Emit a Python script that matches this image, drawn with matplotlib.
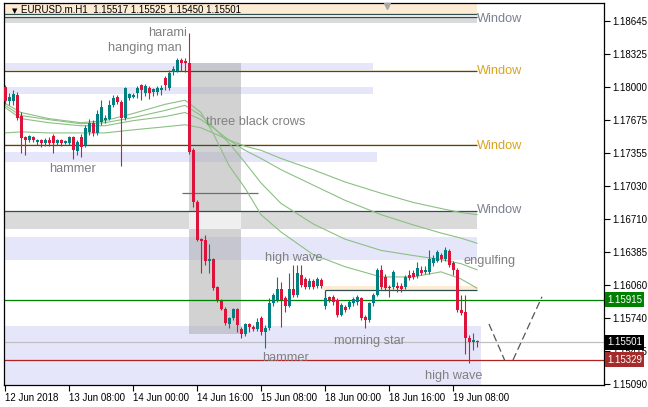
import matplotlib.pyplot as plt
import matplotlib.transforms as mtransforms
import numpy as np
from matplotlib.patches import Rectangle

plt.rcParams['font.family'] = ['Liberation Sans', 'DejaVu Sans']

# hourly EURUSD candles, 12 Jun 2018 00:00 .. 19 Jun 2018 14:00 (weekend skipped)
opens = [1.1800, 1.1786, 1.1786, 1.1792, 1.1772, 1.1751, 1.1748, 1.1751, 1.1746, 1.1748,
         1.1745, 1.1748, 1.1752, 1.1745, 1.1748, 1.1745, 1.1745, 1.1751, 1.1737, 1.1751,
         1.1743, 1.1756, 1.1765, 1.1755, 1.1766, 1.1768, 1.1769, 1.1782, 1.1790, 1.1785,
         1.1770, 1.1789, 1.1790, 1.1794, 1.1802, 1.1794, 1.1799, 1.1795, 1.1795, 1.1797,
         1.1809, 1.1799, 1.1815, 1.1816, 1.1826, 1.1825, 1.1823, 1.1738, 1.1687, 1.1651,
         1.1650, 1.1630, 1.1632, 1.1604, 1.1590, 1.1583, 1.1568, 1.1574, 1.1583, 1.1563,
         1.1558, 1.1568, 1.1565, 1.1563, 1.1574, 1.1560, 1.1564, 1.1588, 1.1591, 1.1602,
         1.1593, 1.1586, 1.1602, 1.1596, 1.1616, 1.1612, 1.1604, 1.1610, 1.1605, 1.1611,
         1.1586, 1.1594, 1.1594, 1.1591, 1.1577, 1.1585, 1.1585, 1.1588, 1.1589, 1.1593,
         1.1575, 1.1572, 1.1588, 1.1596, 1.1621, 1.1614, 1.1604, 1.1604, 1.1605, 1.1605,
         1.1604, 1.1616, 1.1618, 1.1615, 1.1621, 1.1619, 1.1619, 1.1628, 1.1630, 1.1635,
         1.1632, 1.1639, 1.1628, 1.1621, 1.1582, 1.1580, 1.1554, 1.1550, 1.15517]
highs = [1.1802, 1.1794, 1.1797, 1.1795, 1.1775, 1.1752, 1.1753, 1.1752, 1.1749, 1.1749,
         1.1750, 1.1751, 1.1754, 1.1749, 1.1749, 1.1748, 1.1752, 1.1752, 1.1748, 1.1754,
         1.1763, 1.1769, 1.1768, 1.1777, 1.1787, 1.1773, 1.1787, 1.1792, 1.1792, 1.1787,
         1.1800, 1.1794, 1.1794, 1.1801, 1.1803, 1.1803, 1.1801, 1.1799, 1.1801, 1.1802,
         1.1811, 1.1817, 1.1821, 1.1828, 1.1828, 1.1828, 1.1853, 1.1740, 1.1689, 1.1652,
         1.1655, 1.1646, 1.1633, 1.1605, 1.1592, 1.1585, 1.1575, 1.1584, 1.1584, 1.1565,
         1.1569, 1.1569, 1.1567, 1.1574, 1.1576, 1.1567, 1.1593, 1.1598, 1.1614, 1.1609,
         1.1595, 1.1618, 1.1626, 1.1626, 1.1626, 1.1614, 1.1613, 1.1612, 1.1614, 1.1613,
         1.1595, 1.1595, 1.1596, 1.1593, 1.1588, 1.1587, 1.1591, 1.1594, 1.1596, 1.1594,
         1.1577, 1.1589, 1.1598, 1.1623, 1.1626, 1.1617, 1.1606, 1.1621, 1.1609, 1.1608,
         1.1616, 1.1621, 1.1621, 1.1629, 1.1625, 1.1625, 1.1640, 1.1635, 1.1640, 1.1637,
         1.1643, 1.1641, 1.1630, 1.1623, 1.1596, 1.1596, 1.1557, 1.1559, 1.15525]
lows = [1.1783, 1.1782, 1.1782, 1.1768, 1.1735, 1.1733, 1.1746, 1.1746, 1.1743, 1.1741,
        1.1742, 1.1742, 1.1735, 1.1743, 1.1742, 1.1744, 1.1743, 1.1729, 1.1733, 1.1731,
        1.1741, 1.1753, 1.1752, 1.1753, 1.1763, 1.1765, 1.1768, 1.1780, 1.1783, 1.1723,
        1.1768, 1.1787, 1.1789, 1.1789, 1.1787, 1.1791, 1.1788, 1.1791, 1.1792, 1.1792,
        1.1797, 1.1797, 1.1812, 1.1815, 1.1816, 1.1815, 1.1734, 1.1682, 1.1649, 1.1618,
        1.1626, 1.1618, 1.1601, 1.1589, 1.1582, 1.1567, 1.1564, 1.1572, 1.1560, 1.1554,
        1.1556, 1.1560, 1.1561, 1.1561, 1.1557, 1.1544, 1.1562, 1.1586, 1.1589, 1.1565,
        1.1580, 1.1585, 1.1594, 1.1594, 1.1604, 1.1602, 1.1602, 1.1602, 1.1603, 1.1603,
        1.1583, 1.1589, 1.1587, 1.1575, 1.1576, 1.1580, 1.1583, 1.1586, 1.1587, 1.1572,
        1.1564, 1.1570, 1.1586, 1.1595, 1.1602, 1.1601, 1.1594, 1.1602, 1.1599, 1.1599,
        1.1602, 1.1611, 1.1612, 1.1613, 1.1616, 1.1617, 1.1617, 1.1625, 1.1629, 1.1629,
        1.1630, 1.1624, 1.1616, 1.1580, 1.1577, 1.1539, 1.1530, 1.1542, 1.15450]
closes = [1.1786, 1.1790, 1.1793, 1.1770, 1.1750, 1.1748, 1.1752, 1.1748, 1.1748, 1.1745,
          1.1748, 1.1745, 1.1745, 1.1748, 1.1745, 1.1747, 1.1751, 1.1738, 1.1746, 1.1741,
          1.1760, 1.1765, 1.1755, 1.1774, 1.1780, 1.1770, 1.1782, 1.1789, 1.1785, 1.1770,
          1.1799, 1.1793, 1.1792, 1.1799, 1.1797, 1.1801, 1.1794, 1.1798, 1.1799, 1.1799,
          1.1802, 1.1814, 1.1818, 1.1826, 1.1823, 1.1823, 1.1736, 1.1687, 1.1650, 1.1649,
          1.1630, 1.1632, 1.1603, 1.1591, 1.1583, 1.1569, 1.1574, 1.1583, 1.1567, 1.1558,
          1.1568, 1.1565, 1.1563, 1.1570, 1.1560, 1.1564, 1.1588, 1.1596, 1.1602, 1.1591,
          1.1586, 1.1602, 1.1596, 1.1618, 1.1606, 1.1604, 1.1610, 1.1604, 1.1612, 1.1605,
          1.1593, 1.1591, 1.1589, 1.1577, 1.1587, 1.1582, 1.1589, 1.1592, 1.1594, 1.1574,
          1.1572, 1.1588, 1.1596, 1.1621, 1.1604, 1.1603, 1.1603, 1.1619, 1.1603, 1.1602,
          1.1614, 1.1613, 1.1614, 1.1623, 1.1618, 1.1621, 1.1632, 1.1633, 1.1638, 1.1632,
          1.1640, 1.1626, 1.1621, 1.1582, 1.1579, 1.1554, 1.1550, 1.1552, 1.15501]

# moving averages, read at a few bars
ma_idx = [0, 4, 11, 19, 25, 32, 40, 45, 49, 52, 56, 60, 64, 69, 77, 85, 94, 102, 109, 114, 118]
ma_fast = [1.1784, 1.1775, 1.1769, 1.1765, 1.1767, 1.1774, 1.1783, 1.1787, 1.1775, 1.1755, 1.1723,
           1.1701, 1.1675, 1.1658, 1.1636, 1.1624, 1.1614, 1.1614, 1.1619, 1.1612, 1.1603]
ma_mid1 = [1.1782, 1.1772, 1.1768, 1.1764, 1.1765, 1.1770, 1.1777, 1.1782, 1.1772, 1.1761, 1.1745,
           1.1726, 1.1706, 1.1686, 1.1666, 1.1651, 1.1640, 1.1635, 1.1631, 1.1627, 1.1621]
ma_mid2 = [1.1780, 1.1769, 1.1765, 1.1762, 1.1762, 1.1767, 1.1771, 1.1775, 1.1768, 1.1760, 1.1748,
           1.1738, 1.1730, 1.1719, 1.1704, 1.1689, 1.1675, 1.1665, 1.1657, 1.1652, 1.1647]
ma_slow = [1.1755, 1.1756, 1.1755, 1.1755, 1.1755, 1.1758, 1.1761, 1.1763, 1.1760, 1.1755, 1.1748,
           1.1742, 1.1738, 1.1730, 1.1719, 1.1707, 1.1696, 1.1687, 1.1681, 1.1677, 1.1675]

date_pos = [0, 16, 32, 48, 64, 80, 96, 112]
date_labels = ["12 Jun 2018", "13 Jun 08:00", "14 Jun 00:00", "14 Jun 16:00",
               "15 Jun 08:00", "18 Jun 00:00", "18 Jun 16:00", "19 Jun 08:00"]
price_ticks = [1.18645, 1.18325, 1.18000, 1.17675, 1.17355, 1.17030, 1.16710,
               1.16385, 1.16060, 1.15740, 1.15415, 1.15090]

fig = plt.figure(figsize=(6.48, 4.07), dpi=100)
ax = fig.add_axes([4 / 648, 22 / 407, 600 / 648, 382 / 407])
ax.set_xlim(-0.25, 149.75)
ax.set_ylim(1.15082, 1.18822)

lav = '#e6e6fa'
beige = '#fdebd3'
dark = '#2f4f4f'
x0 = -0.25


def band(xa, xb, ya, yb, color, z=0.5, alpha=1.0):
    ax.add_patch(Rectangle((xa, ya), xb - xa, yb - ya, fc=color, ec='none', zorder=z, alpha=alpha))


# window zones
band(x0, 118, 1.18711, 1.18822, beige)
band(x0, 118, 1.18623, 1.18682, '#dadada')
ax.hlines([1.18711, 1.18682], x0, 118, color=dark, lw=0.9, zorder=1)
band(x0, 92, 1.18166, 1.18234, lav)
band(x0, 92, 1.17931, 1.17999, lav)
band(x0, 118, 1.18156, 1.18166, beige)
ax.hlines(1.18156, x0, 118, color=dark, lw=0.9, zorder=1)
band(x0, 118, 1.17431, 1.17441, beige)
ax.hlines(1.17431, x0, 118, color=dark, lw=0.9, zorder=1)
band(x0, 93, 1.17265, 1.17363, lav)
band(x0, 118, 1.16609, 1.16775, '#dadada')
ax.hlines(1.16785, x0, 118, color=dark, lw=0.9, zorder=1)
band(x0, 118, 1.16306, 1.16531, lav)
band(x0, 119, 1.15082, 1.15659, lav)

# three black crows box
band(46, 59, 1.15581, 1.18234, '#aaaaaa', z=0.7, alpha=0.52)
band(46, 59, 1.16609, 1.16775, '#efefef', z=0.8)
ax.hlines(1.16962, 44.25, 63.25, color='#6e6e6e', lw=0.9, zorder=1)

# morning star zone
band(79, 118, 1.16012, 1.16051, beige)
ax.hlines(1.16012, 80, 118, color=dark, lw=0.9, zorder=1)
ax.vlines(80, 1.15914, 1.16012, color=dark, lw=0.9, zorder=1)

# price lines
ax.axhline(1.15915, color='#008000', lw=0.9, zorder=1.2)
ax.axhline(1.15501, color='#c0c0c0', lw=0.9, zorder=1.2)
ax.axhline(1.15329, color='#b22222', lw=0.9, zorder=1.2)

# projected path
ax.plot([121, 125], [1.15679, 1.15317], color='#555555', lw=0.9, ls=(0, (6, 3)), zorder=1.2)
ax.plot([127, 134.25], [1.15327, 1.15946], color='#555555', lw=0.9, ls=(0, (6, 3)), zorder=1.2)

# moving averages
for ma in (ma_fast, ma_mid1, ma_mid2, ma_slow):
    ax.plot(ma_idx, ma, color='#8cc084', lw=0.8, zorder=1.5)

# candles
o = np.array(opens)
c = np.array(closes)
idx = np.arange(len(o))
cols = np.where(c >= o, '#008080', '#dc143c')
ax.vlines(idx, lows, highs, colors=cols, lw=0.8, zorder=3)
ax.bar(idx, np.maximum(np.abs(c - o), 0.00006), bottom=np.minimum(o, c),
       width=0.75, color=cols, linewidth=0, zorder=4)

# pattern labels
gray = '#808080'
fs = 9.2
ax.text(40.75, 1.18528, "harami", color=gray, fontsize=fs, ha='center', va='center', zorder=5)
ax.text(35, 1.18381, "hanging man", color=gray, fontsize=fs, ha='center', va='center', zorder=5)
ax.text(50.25, 1.17657, "three black crows", color=gray, fontsize=fs, ha='left', va='center', zorder=5)
ax.text(17, 1.17197, "hammer", color=gray, fontsize=fs, ha='center', va='center', zorder=5)
ax.text(65, 1.16325, "high wave", color=gray, fontsize=fs, ha='left', va='center', zorder=5)
ax.text(114.75, 1.16296, "engulfing", color=gray, fontsize=fs, ha='left', va='center', zorder=5)
ax.text(64.25, 1.15346, "hammer", color=gray, fontsize=fs, ha='left', va='center', zorder=5)
ax.text(82.25, 1.15513, "morning star", color=gray, fontsize=fs, ha='left', va='center', zorder=5)
ax.text(105, 1.15170, "high wave", color=gray, fontsize=fs, ha='left', va='center', zorder=5)
for yw, cw in [(1.18665, '#7f8090'), (1.18156, '#daa520'), (1.17422, '#daa520'), (1.16795, '#7f8090')]:
    ax.text(118, yw, "Window", color=cw, fontsize=fs, ha='left', va='center', zorder=5)

# chart shift marker
ax.plot([95.5], [1.18790], marker='v', color='#a8a8a8', ms=5, clip_on=False, zorder=6)

# header
fig.text(12 / 648, 1 - 11 / 407, "\u25bc", fontsize=5, family='DejaVu Sans', va='center')
fig.text(21 / 648, 1 - 10 / 407, "EURUSD.m.H1  1.15517 1.15525 1.15450 1.15501",
         fontsize=7, va='center', color='black')

# axes
ax.yaxis.tick_right()
ax.set_yticks(price_ticks)
ax.set_yticklabels([f"{p:.5f}" for p in price_ticks])
ax.set_xticks(date_pos)
ax.set_xticklabels(date_labels)
for lbl in ax.get_xticklabels():
    lbl.set_ha('left')
ax.tick_params(axis='y', length=4, pad=2, labelsize=7, width=0.8)
ax.tick_params(axis='x', length=4, pad=2, labelsize=7, width=0.8)
for sp in ax.spines.values():
    sp.set_color('black')
    sp.set_linewidth(0.9)

# current price tags
trans = mtransforms.blended_transform_factory(ax.transAxes, ax.transData)
for p, bg in [(1.15915, '#008000'), (1.15501, '#000000'), (1.15329, '#a52a2a')]:
    ax.text(1.0 + 3 / 600, p, f"{p:.5f}", transform=trans, ha='left', va='center',
            fontsize=7, color='white', clip_on=False, zorder=10,
            bbox=dict(boxstyle='square,pad=0.25', fc=bg, ec='none'))

plt.savefig("out.png", dpi=100)
